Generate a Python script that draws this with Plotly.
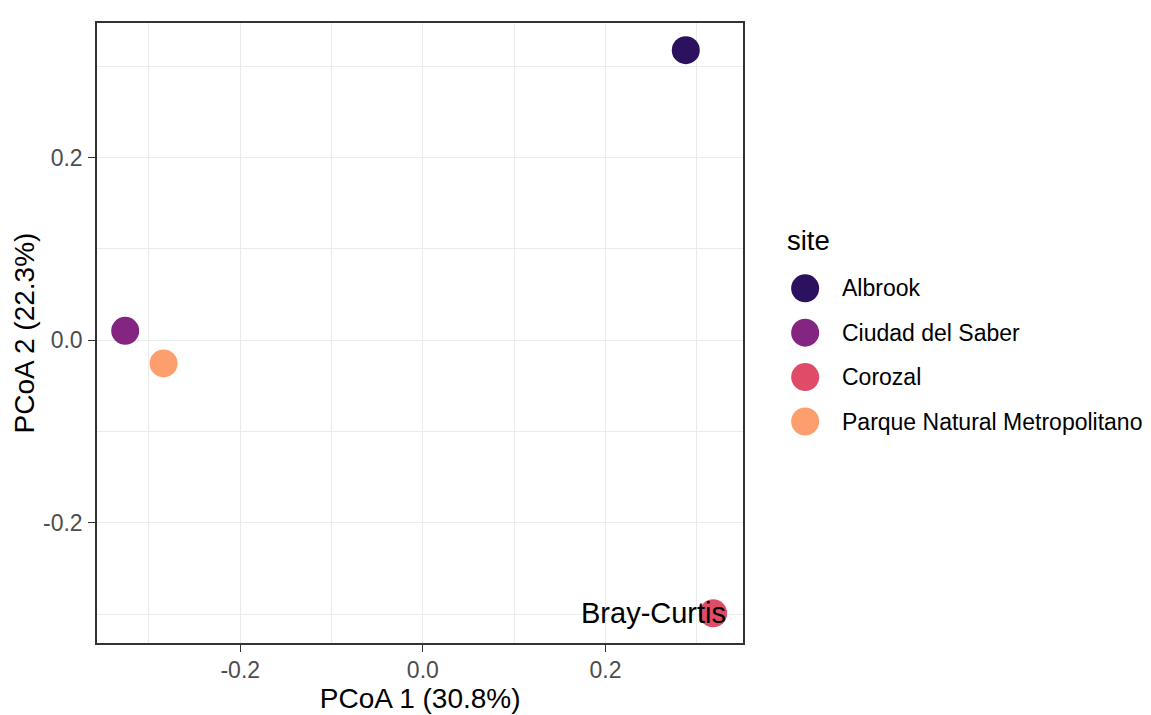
import plotly.graph_objects as go

# ---- data ----
sites = ["Albrook", "Ciudad del Saber", "Corozal", "Parque Natural Metropolitano"]
pcoa1 = [0.288, -0.326, 0.318, -0.284]
pcoa2 = [0.3175, 0.0102, -0.2992, -0.0255]
colors = ["#2C115F", "#842681", "#E04C67", "#FC9F6C"]
x_ticks = [-0.2, 0.0, 0.2]
x_tick_labels = ["-0.2", "0.0", "0.2"]
y_ticks = [-0.2, 0.0, 0.2]
y_tick_labels = ["-0.2", "0.0", "0.2"]
x_range = [-0.3569, 0.3510]
y_range = [-0.3317, 0.3473]
x_title = "PCoA 1 (30.8%)"
y_title = "PCoA 2 (22.3%)"
legend_title = "site"
method_label = "Bray-Curtis"
method_pos = (0.334, -0.2992)

FONT = "Liberation Sans, Arial, sans-serif"
TICK_COLOR = "#4D4D4D"
GRID = "#EBEBEB"
BORDER = "#333333"

fig = go.Figure()

# main scatter
for s, x, y, c in zip(sites, pcoa1, pcoa2, colors):
    fig.add_trace(go.Scatter(
        x=[x], y=[y], mode="markers", name=s, showlegend=False,
        marker=dict(size=28, color=c, line=dict(width=0)),
        cliponaxis=False, xaxis="x", yaxis="y",
    ))

# legend keys drawn on a separate categorical axis
fig.add_trace(go.Scatter(
    x=[0] * len(sites), y=sites, mode="markers", showlegend=False,
    marker=dict(size=28, color=colors, line=dict(width=0)),
    cliponaxis=False, xaxis="x2", yaxis="y2", hoverinfo="skip",
))

axis_common = dict(
    showline=True, linecolor=BORDER, linewidth=1.5, mirror=True,
    showgrid=True, gridcolor=GRID, gridwidth=1.1,
    zeroline=False, ticks="outside", ticklen=7, tickwidth=1.3, tickcolor=BORDER,
    tickfont=dict(family=FONT, size=23, color=TICK_COLOR),
    minor=dict(dtick=0.1, tick0=0, showgrid=True, gridcolor=GRID, gridwidth=0.6, ticks=""),
)

annotations = [
    dict(x=method_pos[0], y=method_pos[1], xref="x", yref="y", text=method_label,
         showarrow=False, xanchor="right", yanchor="middle",
         font=dict(family=FONT, size=29, color="black")),
    dict(x=(785 - 97) / 1054, y=1 - (241 - 23) / 620, xref="paper", yref="paper",
         text=legend_title, showarrow=False, xanchor="left", yanchor="middle",
         font=dict(family=FONT, size=27.5, color="black")),
]
for s in sites:
    annotations.append(dict(x=1.50, y=s, xref="x2", yref="y2", text=s, showarrow=False,
                            xanchor="left", yanchor="middle",
                            font=dict(family=FONT, size=23, color="black")))

# page body adds an 8px offset, so the figure is 8px smaller and margins shifted
fig.update_layout(
    width=1143, height=707,
    margin=dict(l=89, r=0, t=15, b=72, autoexpand=False),
    paper_bgcolor="white", plot_bgcolor="white",
    font=dict(family=FONT),
    xaxis=dict(domain=[0, 0.6132], range=x_range, tickvals=x_ticks, ticktext=x_tick_labels,
               anchor="y", ticklabelstandoff=-1,
               title=dict(text=x_title, font=dict(family=FONT, size=28, color="black"), standoff=4),
               **axis_common),
    yaxis=dict(domain=[0, 1], range=y_range, tickvals=y_ticks, ticktext=y_tick_labels,
               anchor="x", ticklabelstandoff=1,
               title=dict(text=y_title, font=dict(family=FONT, size=28, color="black"), standoff=0),
               **axis_common),
    xaxis2=dict(domain=[0.65, 1], range=[-1, 15], visible=False, anchor="y2", fixedrange=True),
    yaxis2=dict(domain=[1 - (443.7 - 23) / 620, 1 - (266.1 - 23) / 620],
                range=[len(sites) - 0.5, -0.5], type="category",
                categoryorder="array", categoryarray=sites,
                visible=False, anchor="x2", fixedrange=True),
    annotations=annotations,
    showlegend=False,
)

fig.write_html("out.html")
